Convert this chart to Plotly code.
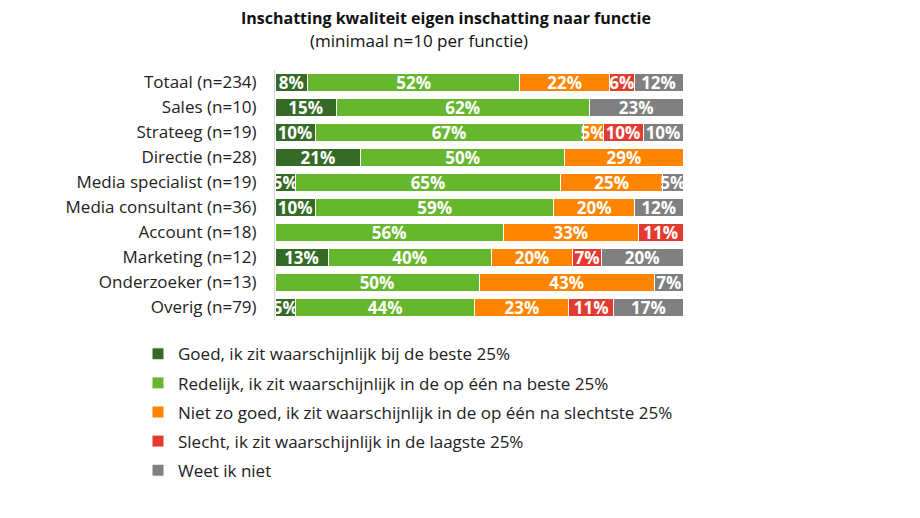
import plotly.graph_objects as go

categories = ["Totaal (n=234)", "Sales (n=10)", "Strateeg (n=19)", "Directie (n=28)",
              "Media specialist (n=19)", "Media consultant (n=36)", "Account (n=18)",
              "Marketing (n=12)", "Onderzoeker (n=13)", "Overig (n=79)"]

series_names = ["Goed, ik zit waarschijnlijk bij de beste 25%",
                "Redelijk, ik zit waarschijnlijk in de op één na beste 25%",
                "Niet zo goed, ik zit waarschijnlijk in de op één na slechtste 25%",
                "Slecht, ik zit waarschijnlijk in de laagste 25%",
                "Weet ik niet"]

goed = [8, 15, 10, 21, 5, 10, 0, 13, 0, 5]
redelijk = [52, 62, 67, 50, 65, 59, 56, 40, 50, 44]
niet_zo_goed = [22, 0, 5, 29, 25, 20, 33, 20, 43, 23]
slecht = [6, 0, 10, 0, 0, 0, 11, 7, 0, 11]
weet_niet = [12, 23, 10, 0, 5, 12, 0, 20, 7, 17]

series_values = [goed, redelijk, niet_zo_goed, slecht, weet_niet]
colors = ["#356a27", "#66b72e", "#ff8500", "#e33b2f", "#808080"]

fig = go.Figure()
for i, (name, vals, col) in enumerate(zip(series_names, series_values, colors)):
    fig.add_trace(go.Bar(
        y=categories, x=vals, name=name, orientation="h", legendgroup=f"g{i}",
        marker=dict(color=col, line=dict(color="white", width=1)),
        text=[f"{v}%" if v > 0 else "" for v in vals],
        textposition="inside", insidetextanchor="middle",
        textfont=dict(color="white", size=17, family="Open Sans"),
        texttemplate="<b>%{text}</b>",
        constraintext="none", cliponaxis=False,
        hoverinfo="skip",
    ))

# page is drawn with an 8px body offset; plot area target on screen: x 275-683, y 70-320
L, R, T, B = 267, 675, 62, 312
PW, PH = R - L, B - T

fig.update_layout(
    barmode="stack", barnorm="percent", bargap=0.26,
    width=920, height=518,
    margin=dict(l=L, r=920 - R, t=T, b=518 - B, autoexpand=False),
    paper_bgcolor="white", plot_bgcolor="white",
    font=dict(family="Open Sans", size=17, color="#222222"),
    uniformtext=dict(minsize=16, mode="show"),
    showlegend=True,
    legend=dict(x=-137 / PW, y=-0.065, xanchor="left", yanchor="top",
                traceorder="grouped", font=dict(size=17, color="#222222"),
                itemwidth=30, tracegroupgap=4, bgcolor="rgba(0,0,0,0)"),
    annotations=[
        dict(text="<b>Inschatting kwaliteit eigen inschatting naar functie</b>",
             xref="paper", yref="paper", x=(446 - 275) / PW, y=1 + (70 - 18) / PH,
             xanchor="center", yanchor="middle", showarrow=False,
             font=dict(size=16, color="#111111")),
        dict(text="(minimaal n=10 per functie)",
             xref="paper", yref="paper", x=(419 - 275) / PW, y=1 + (70 - 41) / PH,
             xanchor="center", yanchor="middle", showarrow=False,
             font=dict(size=17, color="#111111")),
    ],
)
fig.update_xaxes(range=[0, 100], showgrid=False, showticklabels=False, zeroline=False,
                 showline=False)
fig.update_yaxes(autorange="reversed", showgrid=False, showline=True, linecolor="#d9d9d9",
                 linewidth=1, ticks="", ticklabelstandoff=14,
                 tickfont=dict(size=17, color="#222222"))

fig.write_html("out.html")
